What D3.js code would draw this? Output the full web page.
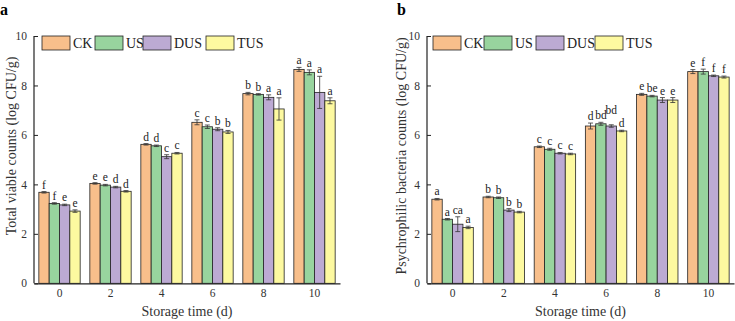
<!DOCTYPE html>
<html>
<head>
<meta charset="utf-8">
<script src="https://cdn.jsdelivr.net/npm/d3@7"></script>
<style>
	body { margin: 0; background: #fff; }
	svg { display: block; font-family: "Liberation Serif", "Times New Roman", serif; }
</style>
</head>
<body>
<div id="chart"></div>
<script>
const days = ["0", "2", "4", "6", "8", "10"];
const treatments = ["CK", "US", "DUS", "TUS"];
const yTicks = [0, 2, 4, 6, 8, 10];

// panel a - total viable counts
const tvcCK = [3.68, 4.04, 5.62, 6.51, 7.67, 8.65];
const tvcUS = [3.23, 3.97, 5.56, 6.33, 7.64, 8.53];
const tvcDUS = [3.17, 3.89, 5.12, 6.23, 7.52, 7.72];
const tvcTUS = [2.92, 3.72, 5.26, 6.12, 7.05, 7.38];
const tvcErrCK = [0.03, 0.03, 0.03, 0.10, 0.05, 0.08];
const tvcErrUS = [0.03, 0.03, 0.03, 0.07, 0.03, 0.10];
const tvcErrDUS = [0.03, 0.03, 0.08, 0.06, 0.10, 0.65];
const tvcErrTUS = [0.05, 0.03, 0.03, 0.06, 0.45, 0.12];
const tvcSigCK = ["f", "e", "d", "c", "b", "a"];
const tvcSigUS = ["f", "e", "d", "c", "b", "a"];
const tvcSigDUS = ["e", "d", "c", "b", "a", "a"];
const tvcSigTUS = ["e", "d", "c", "b", "a", "a"];

// panel b - psychrophilic bacteria counts
const pbcCK = [3.40, 3.49, 5.52, 6.36, 7.64, 8.56];
const pbcUS = [2.59, 3.46, 5.42, 6.45, 7.57, 8.56];
const pbcDUS = [2.39, 2.96, 5.26, 6.36, 7.41, 8.39];
const pbcTUS = [2.26, 2.88, 5.23, 6.16, 7.41, 8.34];
const pbcErrCK = [0.03, 0.03, 0.03, 0.12, 0.04, 0.08];
const pbcErrUS = [0.03, 0.03, 0.04, 0.06, 0.03, 0.10];
const pbcErrDUS = [0.30, 0.06, 0.03, 0.05, 0.10, 0.03];
const pbcErrTUS = [0.05, 0.03, 0.03, 0.03, 0.10, 0.04];
const pbcSigCK = ["a", "b", "c", "d", "e", "e"];
const pbcSigUS = ["a", "b", "c", "bd", "be", "f"];
const pbcSigDUS = ["ca", "b", "c", "bd", "e", "f"];
const pbcSigTUS = ["a", "b", "c", "d", "e", "f"];

const colors = ["#f8bf8b", "#98d49e", "#bcaad3", "#fdf9a0"];

const width = 735, height = 321;

const svg = d3.select("#chart").append("svg")
	.attr("width", width)
	.attr("height", height);

function drawPanel(opts) {
	let x0 = d3.scaleBand().domain(days)
		.range([opts.left, opts.right])
		.paddingInner(0.19).paddingOuter(0.095);
	let x1 = d3.scaleBand().domain(treatments).range([0, x0.bandwidth()]);
	let y = d3.scaleLinear().domain([0, 10]).range([283.3, 36]);

	let g = svg.append("g");

	// flatten series into rows for drawing
	let rows = [];
	treatments.forEach((t, i) => {
		days.forEach((d, j) => {
			rows.push({t: t, i: i, j: j, day: d, v: opts.means[i][j], e: opts.errs[i][j], s: opts.sigs[i][j]});
		});
	});

	g.selectAll("rect.bar")
		.data(rows)
		.enter().append("rect")
		.attr("class", "bar")
		.attr("x", d => x0(d.day) + x1(d.t))
		.attr("y", d => y(d.v))
		.attr("width", x1.bandwidth())
		.attr("height", d => y(0) - y(d.v))
		.attr("fill", d => colors[d.i])
		.attr("stroke", "#222")
		.attr("stroke-width", 0.8);

	let cx = d => x0(d.day) + x1(d.t) + x1.bandwidth() / 2;

	let err = g.selectAll("g.err")
		.data(rows)
		.enter().append("g")
		.attr("class", "err")
		.attr("stroke", "#333")
		.attr("stroke-width", 0.8);
	err.append("line")
		.attr("x1", cx).attr("x2", cx)
		.attr("y1", d => y(d.v + d.e)).attr("y2", d => y(d.v - d.e));
	err.append("line")
		.attr("x1", d => cx(d) - 2.5).attr("x2", d => cx(d) + 2.5)
		.attr("y1", d => y(d.v + d.e)).attr("y2", d => y(d.v + d.e));
	err.append("line")
		.attr("x1", d => cx(d) - 2.5).attr("x2", d => cx(d) + 2.5)
		.attr("y1", d => y(d.v - d.e)).attr("y2", d => y(d.v - d.e));

	// label positions, lift a label when it runs into its left neighbour
	rows.forEach(d => { d.ly = y(d.v + d.e) - 3; d.lx = cx(d); });
	rows.forEach(d => {
		let prev = rows.find(r => r.j === d.j && r.i === d.i - 1);
		if (!prev) return;
		let gap = (d.lx - prev.lx) - (d.s.length + prev.s.length) * 2.9;
		if (gap < 0.5 && Math.abs(d.ly - prev.ly) < 9) d.ly = prev.ly - 5;
	});

	g.selectAll("text.sig")
		.data(rows)
		.enter().append("text")
		.attr("class", "sig")
		.attr("x", d => d.lx)
		.attr("y", d => d.ly)
		.attr("text-anchor", "middle")
		.style("font-size", "11.5px")
		.style("fill", "#222")
		.text(d => d.s);

	// axes
	let yAxis = d3.axisLeft(y).tickValues(yTicks).tickSize(-4).tickPadding(7);
	let ya = g.append("g")
		.attr("transform", "translate(" + opts.left + ",0)")
		.call(yAxis);
	let xAxis = d3.axisBottom(x0).tickSize(0).tickPadding(6);
	let xa = g.append("g")
		.attr("transform", "translate(0," + y(0) + ")")
		.call(xAxis);
	[ya, xa].forEach(a => {
		a.select(".domain").attr("stroke", "#222").attr("stroke-width", 1.2);
		a.selectAll(".tick line").attr("stroke", "#222");
		a.selectAll(".tick text")
			.style("font-size", "11.5px")
			.style("font-family", "Liberation Serif")
			.attr("fill", "#333");
	});
	ya.select(".domain").attr("d", "M0," + y(10) + "V" + y(0));

	// titles
	g.append("text")
		.attr("transform", "translate(" + opts.yTitleX + "," + opts.yTitleY + ") rotate(-90)")
		.attr("text-anchor", "middle")
		.style("font-size", "14px")
		.style("fill", "#333")
		.text(opts.yTitle);
	g.append("text")
		.attr("x", (opts.left + opts.right) / 2)
		.attr("y", 316)
		.attr("text-anchor", "middle")
		.style("font-size", "14px")
		.style("fill", "#333")
		.text("Storage time (d)");
	g.append("text")
		.attr("x", opts.labelX)
		.attr("y", 15)
		.style("font-size", "16px")
		.style("font-weight", "bold")
		.text(opts.label);

	// legend
	let leg = g.selectAll("g.leg")
		.data(treatments)
		.enter().append("g")
		.attr("class", "leg")
		.attr("transform", (d, i) => "translate(" + opts.legendX[i] + ",36)");
	leg.append("rect")
		.attr("width", 28).attr("height", 14)
		.attr("fill", (d, i) => colors[i])
		.attr("stroke", "#222")
		.attr("stroke-width", 0.8);
	leg.append("text")
		.attr("x", 31).attr("y", 12)
		.style("font-size", "14px")
		.style("fill", "#222")
		.text(d => d);
}

drawPanel({
	left: 34, right: 340,
	means: [tvcCK, tvcUS, tvcDUS, tvcTUS],
	errs: [tvcErrCK, tvcErrUS, tvcErrDUS, tvcErrTUS],
	sigs: [tvcSigCK, tvcSigUS, tvcSigDUS, tvcSigTUS],
	yTitle: "Total viable counts (log CFU/g)",
	yTitleX: 16, yTitleY: 146,
	label: "a", labelX: 0,
	legendX: [42, 95, 143, 206]
});

drawPanel({
	left: 427, right: 734,
	means: [pbcCK, pbcUS, pbcDUS, pbcTUS],
	errs: [pbcErrCK, pbcErrUS, pbcErrDUS, pbcErrTUS],
	sigs: [pbcSigCK, pbcSigUS, pbcSigDUS, pbcSigTUS],
	yTitle: "Psychrophilic bacteria counts (log CFU/g)",
	yTitleX: 406, yTitleY: 156,
	label: "b", labelX: 397,
	legendX: [433, 484, 536, 595]
});
</script>
</body>
</html>
